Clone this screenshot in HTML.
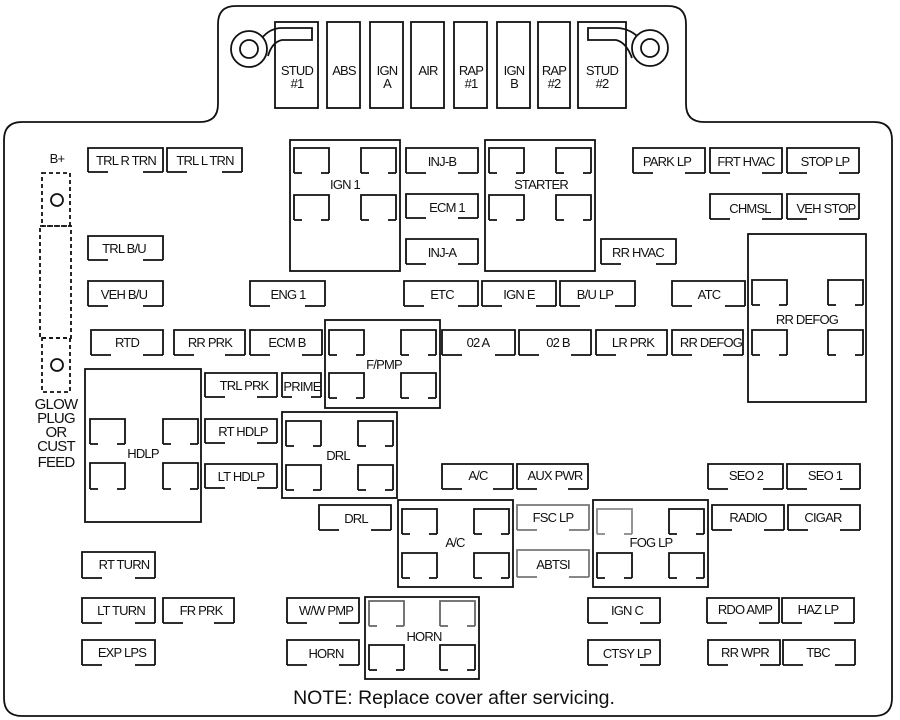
<!DOCTYPE html>
<html><head><meta charset="utf-8"><style>
html,body{margin:0;padding:0;background:#fff}
svg{display:block}
text{font-family:"Liberation Sans",sans-serif;font-size:13px;fill:#111;text-anchor:middle;letter-spacing:-0.8px}
.s{fill:none;stroke:#111;stroke-width:1.8}
</style></head><body>
<svg width="900" height="720" viewBox="0 0 900 720" xmlns="http://www.w3.org/2000/svg">
<rect width="900" height="720" fill="#fff"/>
<path class="s" d="M4,140 Q4,122 22,122 L200,122 Q218,122 218,104 L218,24 Q218,6 236,6 L668,6 Q686,6 686,24 L686,104 Q686,122 704,122 L874,122 Q892,122 892,140 L892,698 Q892,716 874,716 L22,716 Q4,716 4,698 Z"/>
<g class="s">
<rect x="275" y="22" width="43" height="86"/>
<rect x="327" y="22" width="33" height="86"/>
<rect x="370" y="22" width="33" height="86"/>
<rect x="411" y="22" width="33" height="86"/>
<rect x="454" y="22" width="33" height="86"/>
<rect x="497" y="22" width="33" height="86"/>
<rect x="538" y="22" width="32" height="86"/>
<rect x="578" y="22" width="48" height="86"/>
<path d="M262,38 Q270,28 282,28 L312,28 L312,40 L282,40 Q272,42 268,56"/>
<circle cx="249" cy="49" r="18" fill="#fff"/>
<circle cx="249" cy="49" r="9"/>
<path d="M637,36 Q628,28 616,28 L588,28 L588,40 L616,40 Q626,42 632,58"/>
<circle cx="650" cy="48" r="18" fill="#fff"/>
<circle cx="650" cy="48" r="9"/>
</g>
<text x="297" y="75">STUD</text><text x="297" y="88">#1</text>
<text x="344" y="75">ABS</text>
<text x="387" y="75">IGN</text><text x="387" y="88">A</text>
<text x="428" y="75">AIR</text>
<text x="471" y="75">RAP</text><text x="471" y="88">#1</text>
<text x="514" y="75">IGN</text><text x="514" y="88">B</text>
<text x="554" y="75">RAP</text><text x="554" y="88">#2</text>
<text x="602" y="75">STUD</text><text x="602" y="88">#2</text>

<g class="s" stroke-dasharray="4,3">
<rect x="42" y="173" width="28" height="53"/>
<rect x="40" y="226" width="31" height="112"/>
<rect x="42" y="338" width="28" height="54"/>
</g>
<circle class="s" cx="57" cy="200" r="6"/>
<circle class="s" cx="57" cy="365" r="6"/>
<text x="57" y="163">B+</text>
<text x="56" y="409" style="font-size:15px">GLOW</text><text x="56" y="423" style="font-size:15px">PLUG</text><text x="56" y="437" style="font-size:15px">OR</text><text x="56" y="451" style="font-size:15px">CUST</text><text x="56" y="467" style="font-size:15px">FEED</text>

<g class="s">
<path d="M88,172 V148 H163 V172 M88,172 h20 M163,172 h-20"/>
<path d="M167,172 V148 H242 V172 M167,172 h20 M242,172 h-20"/>
<path d="M88,260 V236 H163 V260 M88,260 h20 M163,260 h-20"/>
<path d="M88,306 V281 H163 V306 M88,306 h20 M163,306 h-20"/>
<path d="M250,306 V281 H325 V306 M250,306 h20 M325,306 h-20"/>
<path d="M91,355 V330 H163 V355 M91,355 h20 M163,355 h-20"/>
<path d="M174,355 V330 H245 V355 M174,355 h20 M245,355 h-20"/>
<path d="M250,355 V330 H322 V355 M250,355 h20 M322,355 h-20"/>
<path d="M406,173 V148 H478 V173 M406,173 h20 M478,173 h-20"/>
<path d="M406,218 V194 H478 V218 M406,218 h20 M478,218 h-20"/>
<path d="M406,264 V239 H478 V264 M406,264 h20 M478,264 h-20"/>
<path d="M404,306 V281 H478 V306 M404,306 h20 M478,306 h-20"/>
<path d="M482,306 V281 H556 V306 M482,306 h20 M556,306 h-20"/>
<path d="M560,306 V281 H635 V306 M560,306 h20 M635,306 h-20"/>
<path d="M672,306 V281 H745 V306 M672,306 h20 M745,306 h-20"/>
<path d="M442,355 V330 H515 V355 M442,355 h20 M515,355 h-20"/>
<path d="M519,355 V330 H591 V355 M519,355 h20 M591,355 h-20"/>
<path d="M596,355 V330 H667 V355 M596,355 h20 M667,355 h-20"/>
<path d="M672,355 V330 H743 V355 M672,355 h20 M743,355 h-20"/>
<path d="M601,264 V239 H676 V264 M601,264 h20 M676,264 h-20"/>
<path d="M633,173 V148 H705 V173 M633,173 h20 M705,173 h-20"/>
<path d="M710,173 V148 H782 V173 M710,173 h20 M782,173 h-20"/>
<path d="M787,173 V148 H859 V173 M787,173 h20 M859,173 h-20"/>
<path d="M710,219 V194 H782 V219 M710,219 h20 M782,219 h-20"/>
<path d="M787,219 V194 H859 V219 M787,219 h20 M859,219 h-20"/>
<path d="M205,397 V373 H277 V397 M205,397 h20 M277,397 h-20"/>
<path d="M282,397 V373 H321 V397 M282,397 h10 M321,397 h-10"/>
<path d="M205,443 V419 H277 V443 M205,443 h20 M277,443 h-20"/>
<path d="M205,488 V464 H277 V488 M205,488 h20 M277,488 h-20"/>
<path d="M319,530 V505 H391 V530 M319,530 h20 M391,530 h-20"/>
<path d="M82,578 V552 H155 V578 M82,578 h20 M155,578 h-20"/>
<path d="M82,623 V598 H155 V623 M82,623 h20 M155,623 h-20"/>
<path d="M163,623 V598 H234 V623 M163,623 h20 M234,623 h-20"/>
<path d="M82,665 V640 H155 V665 M82,665 h20 M155,665 h-20"/>
<path d="M287,623 V598 H359 V623 M287,623 h20 M359,623 h-20"/>
<path d="M287,665 V640 H359 V665 M287,665 h20 M359,665 h-20"/>
<path d="M442,489 V464 H513 V489 M442,489 h20 M513,489 h-20"/>
<path d="M517,489 V464 H588 V489 M517,489 h20 M588,489 h-20"/>
<path d="M517,530 V505 H589 V530 M517,530 h20 M589,530 h-20" stroke="#777"/>
<path d="M517,577 V550 H589 V577 M517,577 h20 M589,577 h-20" stroke="#777"/>
<path d="M588,623 V598 H660 V623 M588,623 h20 M660,623 h-20"/>
<path d="M588,665 V640 H660 V665 M588,665 h20 M660,665 h-20"/>
<path d="M708,489 V464 H783 V489 M708,489 h20 M783,489 h-20"/>
<path d="M787,489 V464 H860 V489 M787,489 h20 M860,489 h-20"/>
<path d="M712,530 V505 H784 V530 M712,530 h20 M784,530 h-20"/>
<path d="M788,530 V505 H860 V530 M788,530 h20 M860,530 h-20"/>
<path d="M707,623 V598 H779 V623 M707,623 h20 M779,623 h-20"/>
<path d="M782,623 V598 H854 V623 M782,623 h20 M854,623 h-20"/>
<path d="M708,665 V640 H780 V665 M708,665 h20 M780,665 h-20"/>
<path d="M783,665 V640 H855 V665 M783,665 h20 M855,665 h-20"/>
</g>
<text x="126" y="165">TRL R TRN</text>
<text x="205" y="165">TRL L TRN</text>
<text x="124" y="253">TRL B/U</text>
<text x="124" y="299">VEH B/U</text>
<text x="288" y="299">ENG 1</text>
<text x="127" y="347">RTD</text>
<text x="210" y="347">RR PRK</text>
<text x="287" y="347">ECM B</text>
<text x="442" y="166">INJ-B</text>
<text x="447" y="212">ECM 1</text>
<text x="442" y="257">INJ-A</text>
<text x="442" y="299">ETC</text>
<text x="519" y="299">IGN E</text>
<text x="595" y="299">B/U LP</text>
<text x="709" y="299">ATC</text>
<text x="478" y="347">02 A</text>
<text x="558" y="347">02 B</text>
<text x="633" y="347">LR PRK</text>
<text x="711" y="347">RR DEFOG</text>
<text x="638" y="257">RR HVAC</text>
<text x="667" y="166">PARK LP</text>
<text x="746" y="166">FRT HVAC</text>
<text x="825" y="166">STOP LP</text>
<text x="750" y="213">CHMSL</text>
<text x="826" y="213">VEH STOP</text>
<text x="244" y="390">TRL PRK</text>
<text x="302" y="391">PRIME</text>
<text x="243" y="436">RT HDLP</text>
<text x="241" y="481">LT HDLP</text>
<text x="356" y="523">DRL</text>
<text x="124" y="569">RT TURN</text>
<text x="121" y="615">LT TURN</text>
<text x="201" y="615">FR PRK</text>
<text x="122" y="657">EXP LPS</text>
<text x="326" y="615">W/W PMP</text>
<text x="326" y="658">HORN</text>
<text x="478" y="480">A/C</text>
<text x="555" y="480">AUX PWR</text>
<text x="553" y="522" fill="#555">FSC LP</text>
<text x="553" y="569" fill="#555">ABTSI</text>
<text x="627" y="615">IGN C</text>
<text x="627" y="658">CTSY LP</text>
<text x="746" y="480" fill="#444">SEO 2</text>
<text x="825" y="480">SEO 1</text>
<text x="748" y="522">RADIO</text>
<text x="823" y="522">CIGAR</text>
<text x="745" y="614">RDO AMP</text>
<text x="818" y="614">HAZ LP</text>
<text x="745" y="657">RR WPR</text>
<text x="818" y="657">TBC</text>

<g class="s">
<rect x="290" y="140" width="110" height="131"/>
<path d="M294,173 V148 H329 V173 M294,173 h8 M329,173 h-8"/>
<path d="M361,173 V148 H396 V173 M361,173 h8 M396,173 h-8"/>
<path d="M294,220 V195 H329 V220 M294,220 h8 M329,220 h-8"/>
<path d="M361,220 V195 H396 V220 M361,220 h8 M396,220 h-8"/>
<rect x="485" y="140" width="110" height="131"/>
<path d="M489,173 V148 H524 V173 M489,173 h8 M524,173 h-8"/>
<path d="M556,173 V148 H591 V173 M556,173 h8 M591,173 h-8"/>
<path d="M489,220 V195 H524 V220 M489,220 h8 M524,220 h-8"/>
<path d="M556,220 V195 H591 V220 M556,220 h8 M591,220 h-8"/>
<rect x="325" y="320" width="115" height="88"/>
<path d="M329,355 V330 H364 V355 M329,355 h8 M364,355 h-8"/>
<path d="M401,355 V330 H436 V355 M401,355 h8 M436,355 h-8"/>
<path d="M329,398 V373 H364 V398 M329,398 h8 M364,398 h-8"/>
<path d="M401,398 V373 H436 V398 M401,398 h8 M436,398 h-8"/>
<rect x="748" y="234" width="118" height="168"/>
<path d="M752,305 V280 H787 V305 M752,305 h8 M787,305 h-8"/>
<path d="M828,305 V280 H863 V305 M828,305 h8 M863,305 h-8"/>
<path d="M752,355 V330 H787 V355 M752,355 h8 M787,355 h-8"/>
<path d="M828,355 V330 H863 V355 M828,355 h8 M863,355 h-8"/>
<rect x="85" y="369" width="116" height="153"/>
<path d="M90,444 V419 H125 V444 M90,444 h8 M125,444 h-8"/>
<path d="M163,444 V419 H198 V444 M163,444 h8 M198,444 h-8"/>
<path d="M90,489 V463 H125 V489 M90,489 h8 M125,489 h-8"/>
<path d="M163,489 V463 H198 V489 M163,489 h8 M198,489 h-8"/>
<rect x="282" y="412" width="115" height="86"/>
<path d="M286,446 V421 H321 V446 M286,446 h8 M321,446 h-8"/>
<path d="M358,446 V421 H393 V446 M358,446 h8 M393,446 h-8"/>
<path d="M286,490 V465 H321 V490 M286,490 h8 M321,490 h-8"/>
<path d="M358,490 V465 H393 V490 M358,490 h8 M393,490 h-8"/>
<rect x="398" y="500" width="115" height="87"/>
<path d="M402,534 V509 H437 V534 M402,534 h8 M437,534 h-8"/>
<path d="M474,534 V509 H509 V534 M474,534 h8 M509,534 h-8"/>
<path d="M402,578 V553 H437 V578 M402,578 h8 M437,578 h-8"/>
<path d="M474,578 V553 H509 V578 M474,578 h8 M509,578 h-8"/>
<rect x="593" y="500" width="115" height="87"/>
<path d="M597,534 V509 H632 V534 M597,534 h8 M632,534 h-8" stroke="#888"/>
<path d="M669,534 V509 H704 V534 M669,534 h8 M704,534 h-8"/>
<path d="M597,578 V553 H632 V578 M597,578 h8 M632,578 h-8"/>
<path d="M669,578 V553 H704 V578 M669,578 h8 M704,578 h-8"/>
<rect x="365" y="597" width="114" height="82"/>
<path d="M369,626 V601 H404 V626 M369,626 h8 M404,626 h-8" stroke="#666"/>
<path d="M440,626 V601 H475 V626 M440,626 h8 M475,626 h-8" stroke="#666"/>
<path d="M369,670 V645 H404 V670 M369,670 h8 M404,670 h-8"/>
<path d="M440,670 V645 H475 V670 M440,670 h8 M475,670 h-8"/>
</g>
<text x="345" y="189">IGN 1</text>
<text x="541" y="189">STARTER</text>
<text x="384" y="369">F/PMP</text>
<text x="807" y="324">RR DEFOG</text>
<text x="143" y="458">HDLP</text>
<text x="338" y="460">DRL</text>
<text x="455" y="547">A/C</text>
<text x="651" y="547">FOG LP</text>
<text x="424" y="641">HORN</text>

<text x="454" y="704" style="font-size:19.5px;letter-spacing:0">NOTE: Replace cover after servicing.</text>
</svg>
</body></html>
